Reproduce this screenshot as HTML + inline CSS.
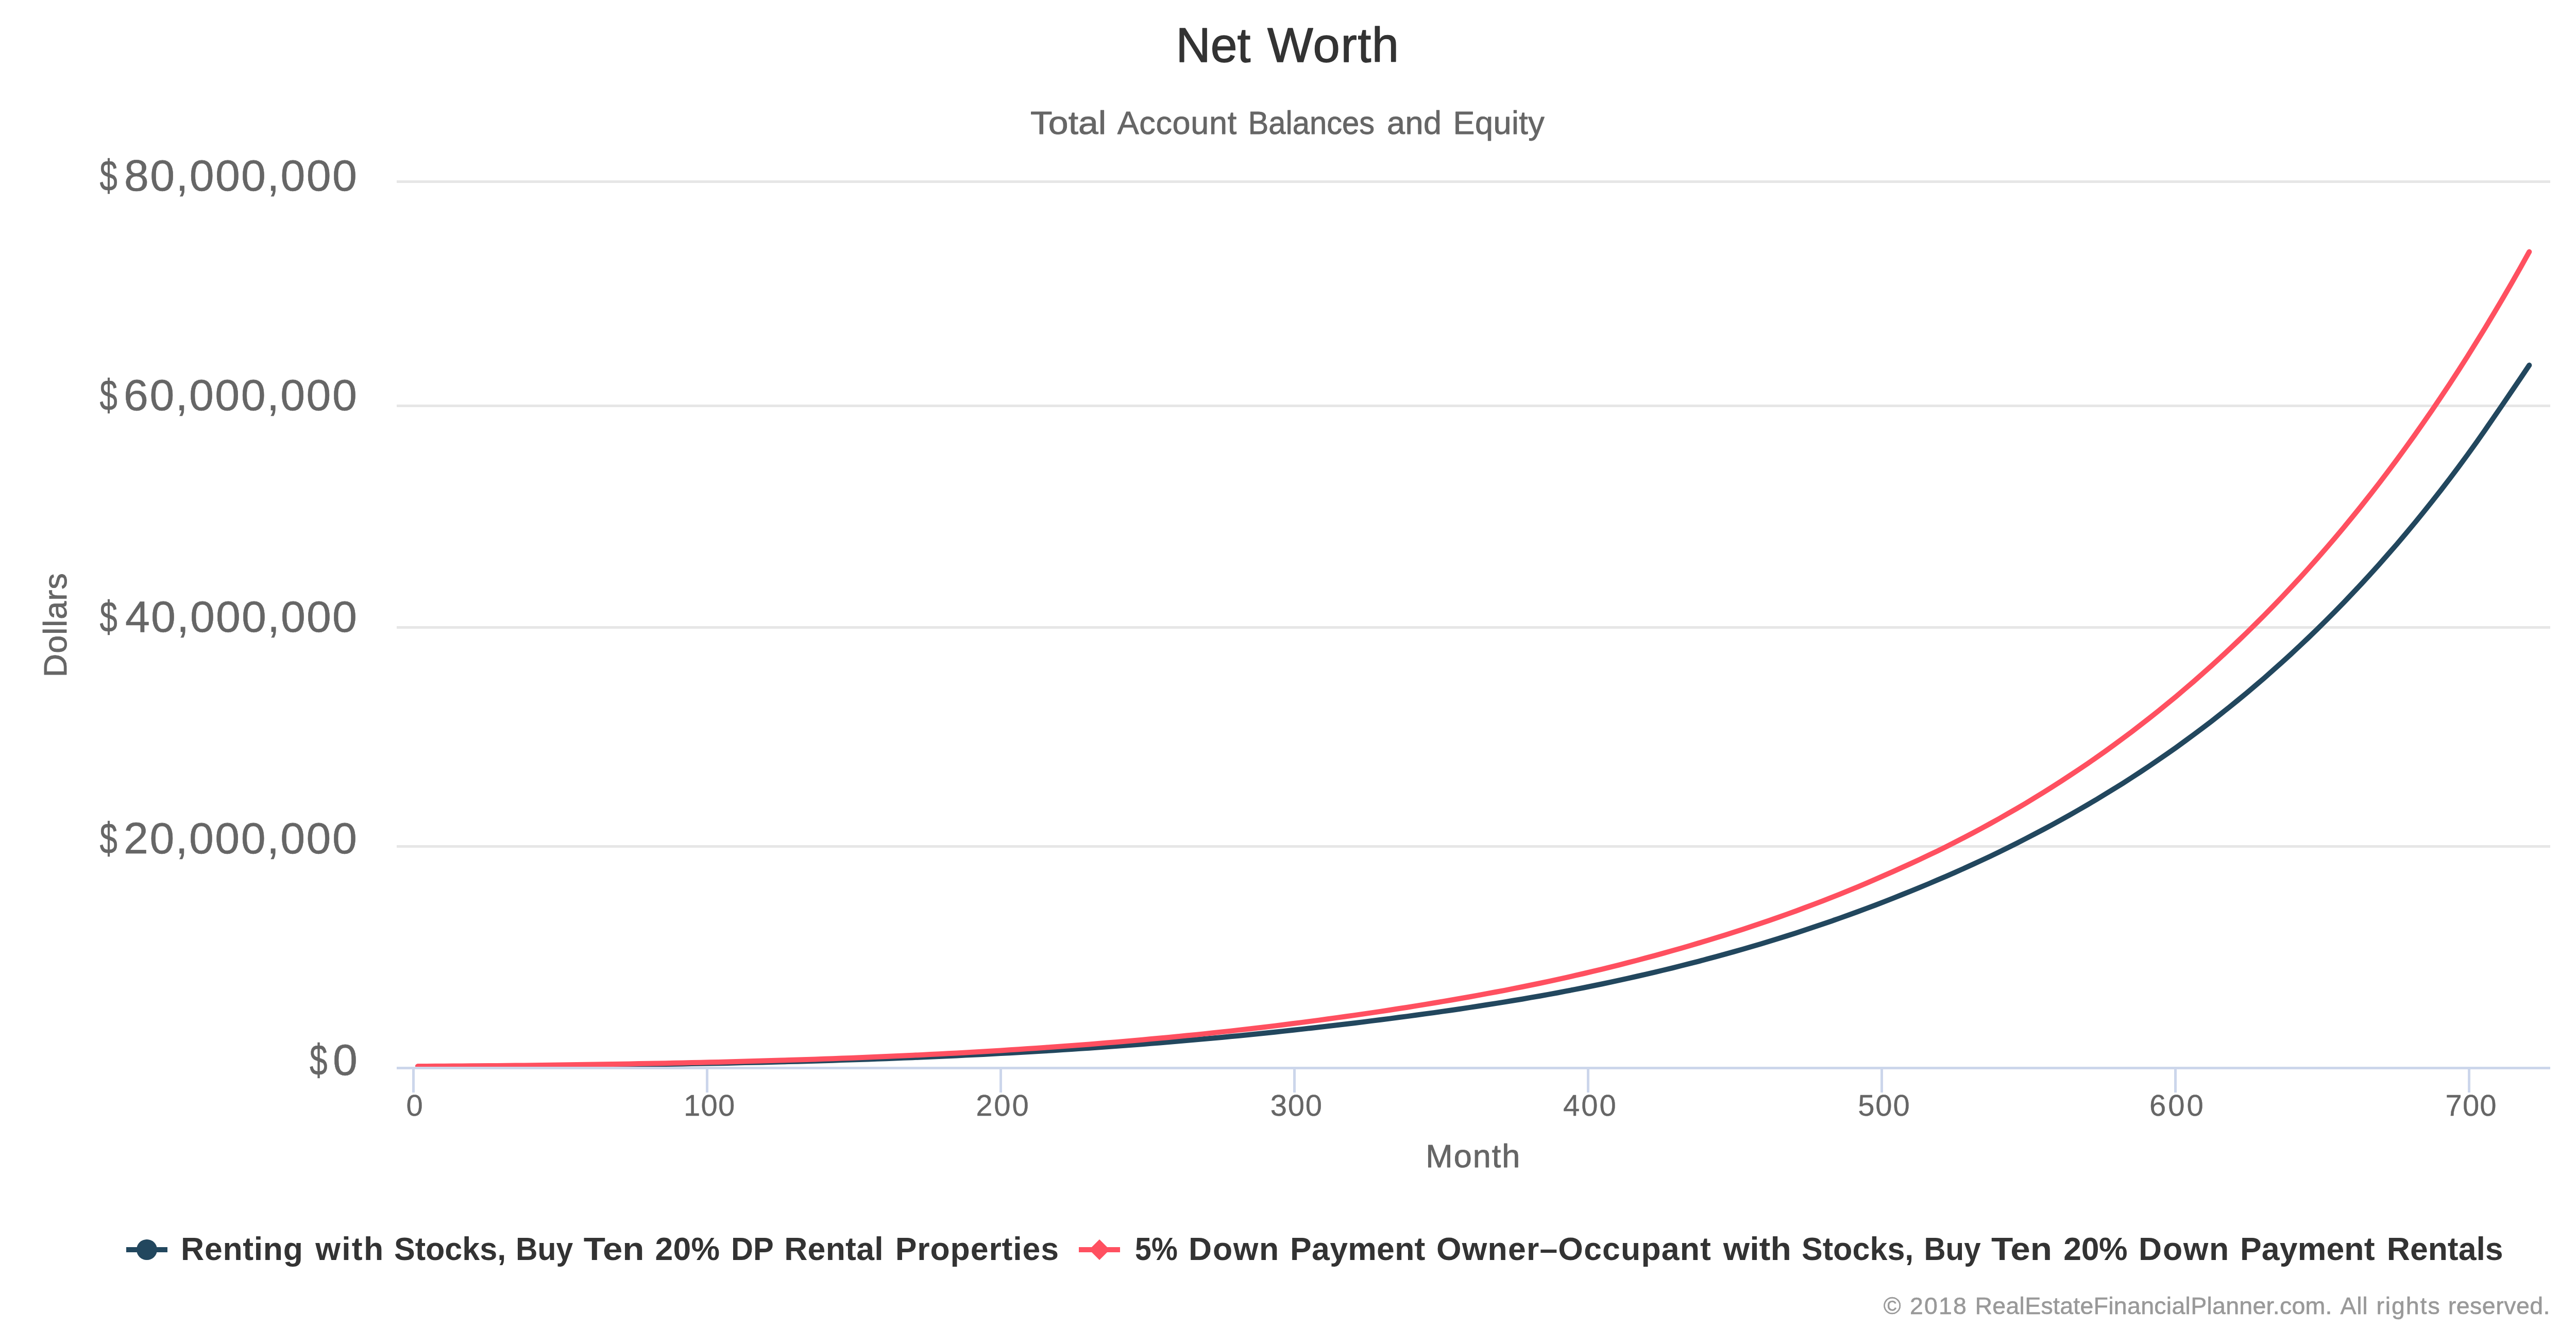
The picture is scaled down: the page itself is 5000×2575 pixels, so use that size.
<!DOCTYPE html>
<html><head><meta charset="utf-8"><title>Net Worth</title>
<style>html,body{margin:0;padding:0;background:#fff;}body{width:5000px;height:2575px;overflow:hidden;}svg{display:block;position:absolute;left:0;top:0;}text{font-family:"Liberation Sans", sans-serif;white-space:pre;}</style></head><body>
<svg width="5000" height="2575" viewBox="0 0 5000 2575">
<rect x="0" y="0" width="5000" height="2575" fill="#ffffff"/>
<rect x="770" y="350" width="4180" height="5" fill="#e6e6e6"/>
<rect x="770" y="785" width="4180" height="5" fill="#e6e6e6"/>
<rect x="770" y="1215" width="4180" height="5" fill="#e6e6e6"/>
<rect x="770" y="1640" width="4180" height="5" fill="#e6e6e6"/>
<rect x="770" y="2070" width="4180" height="5" fill="#e6e6e6"/>
<rect x="770" y="2070" width="4180" height="5" fill="#ccd6eb"/>
<rect x="800" y="2070" width="5" height="50" fill="#ccd6eb"/>
<rect x="1370" y="2070" width="5" height="50" fill="#ccd6eb"/>
<rect x="1940" y="2070" width="5" height="50" fill="#ccd6eb"/>
<rect x="2510" y="2070" width="5" height="50" fill="#ccd6eb"/>
<rect x="3080" y="2070" width="5" height="50" fill="#ccd6eb"/>
<rect x="3650" y="2070" width="5" height="50" fill="#ccd6eb"/>
<rect x="4220" y="2070" width="5" height="50" fill="#ccd6eb"/>
<rect x="4790" y="2070" width="5" height="50" fill="#ccd6eb"/>
<defs><filter id="gaa" filterUnits="userSpaceOnUse" x="3500" y="2480" width="1500" height="95" color-interpolation-filters="sRGB"><feOffset dx="0" dy="0"/></filter></defs>
<text transform="translate(2282.50 120) scale(0.9901 1)" font-size="94" fill="#333333" letter-spacing="0.000" stroke="#333333" stroke-width="1.4" stroke-linejoin="round">Net</text>
<text transform="translate(2460.10 120)" font-size="94" fill="#333333" letter-spacing="1.500" stroke="#333333" stroke-width="1.4" stroke-linejoin="round">Worth</text>
<text transform="translate(2000.00 260) scale(1.1070 1)" font-size="63" fill="#666666" letter-spacing="0.000" stroke="#666666" stroke-width="0.9" stroke-linejoin="round">Total</text>
<text transform="translate(2168.70 260)" font-size="63" fill="#666666" letter-spacing="0.633" stroke="#666666" stroke-width="0.9" stroke-linejoin="round">Account</text>
<text transform="translate(2422.50 260) scale(0.9481 1)" font-size="63" fill="#666666" letter-spacing="0.000" stroke="#666666" stroke-width="0.9" stroke-linejoin="round">Balances</text>
<text transform="translate(2692.10 260)" font-size="63" fill="#666666" letter-spacing="0.400" stroke="#666666" stroke-width="0.9" stroke-linejoin="round">and</text>
<text transform="translate(2820.50 260)" font-size="63" fill="#666666" letter-spacing="0.440" stroke="#666666" stroke-width="0.9" stroke-linejoin="round">Equity</text>
<text transform="translate(193.60 369.6) scale(0.7195 1)" font-size="86" fill="#666666" letter-spacing="0.000" stroke="#666666" stroke-width="0.6" stroke-linejoin="round">$</text>
<text transform="translate(241.10 369.6)" font-size="86" fill="#666666" letter-spacing="2.356" stroke="#666666" stroke-width="0.6" stroke-linejoin="round">80,000,000</text>
<text transform="translate(193.60 795.5) scale(0.7195 1)" font-size="86" fill="#666666" letter-spacing="0.000" stroke="#666666" stroke-width="0.6" stroke-linejoin="round">$</text>
<text transform="translate(240.10 795.5)" font-size="86" fill="#666666" letter-spacing="2.467" stroke="#666666" stroke-width="0.6" stroke-linejoin="round">60,000,000</text>
<text transform="translate(193.60 1225.5) scale(0.7195 1)" font-size="86" fill="#666666" letter-spacing="0.000" stroke="#666666" stroke-width="0.6" stroke-linejoin="round">$</text>
<text transform="translate(243.10 1225.5)" font-size="86" fill="#666666" letter-spacing="2.133" stroke="#666666" stroke-width="0.6" stroke-linejoin="round">40,000,000</text>
<text transform="translate(193.60 1655.5) scale(0.7195 1)" font-size="86" fill="#666666" letter-spacing="0.000" stroke="#666666" stroke-width="0.6" stroke-linejoin="round">$</text>
<text transform="translate(240.10 1655.5)" font-size="86" fill="#666666" letter-spacing="2.467" stroke="#666666" stroke-width="0.6" stroke-linejoin="round">20,000,000</text>
<text transform="translate(601.00 2085.8) scale(0.7225 1)" font-size="86" fill="#666666" letter-spacing="0.000" stroke="#666666" stroke-width="0.6" stroke-linejoin="round">$</text>
<text transform="translate(646.00 2085.8)" font-size="86" fill="#666666" letter-spacing="0.000" stroke="#666666" stroke-width="0.6" stroke-linejoin="round">0</text>
<text transform="translate(788.60 2165)" font-size="58" fill="#666666" letter-spacing="0.000" stroke="#666666" stroke-width="0.4" stroke-linejoin="round">0</text>
<text transform="translate(1327.00 2165)" font-size="58" fill="#666666" letter-spacing="1.200" stroke="#666666" stroke-width="0.4" stroke-linejoin="round">100</text>
<text transform="translate(1894.20 2165)" font-size="58" fill="#666666" letter-spacing="2.900" stroke="#666666" stroke-width="0.4" stroke-linejoin="round">200</text>
<text transform="translate(2465.80 2165)" font-size="58" fill="#666666" letter-spacing="1.700" stroke="#666666" stroke-width="0.4" stroke-linejoin="round">300</text>
<text transform="translate(3034.10 2165)" font-size="58" fill="#666666" letter-spacing="3.000" stroke="#666666" stroke-width="0.4" stroke-linejoin="round">400</text>
<text transform="translate(3606.20 2165)" font-size="58" fill="#666666" letter-spacing="1.900" stroke="#666666" stroke-width="0.4" stroke-linejoin="round">500</text>
<text transform="translate(4172.00 2165)" font-size="58" fill="#666666" letter-spacing="4.000" stroke="#666666" stroke-width="0.4" stroke-linejoin="round">600</text>
<text transform="translate(4746.60 2165)" font-size="58" fill="#666666" letter-spacing="1.100" stroke="#666666" stroke-width="0.4" stroke-linejoin="round">700</text>
<text transform="translate(2767.30 2264.8)" font-size="63" fill="#666666" letter-spacing="2.000" stroke="#666666" stroke-width="0.9" stroke-linejoin="round">Month</text>
<text transform="translate(351.10 2445)" font-size="62.5" fill="#333333" letter-spacing="0.700" font-weight="bold">Renting</text>
<text transform="translate(612.30 2445)" font-size="62.5" fill="#333333" letter-spacing="2.267" font-weight="bold">with</text>
<text transform="translate(764.90 2445) scale(0.9778 1)" font-size="62.5" fill="#333333" letter-spacing="0.000" font-weight="bold">Stocks,</text>
<text transform="translate(1001.10 2445) scale(0.9419 1)" font-size="62.5" fill="#333333" letter-spacing="0.000" font-weight="bold">Buy</text>
<text transform="translate(1132.80 2445) scale(1.1063 1)" font-size="62.5" fill="#333333" letter-spacing="0.000" font-weight="bold">Ten</text>
<text transform="translate(1271.60 2445)" font-size="62.5" fill="#333333" letter-spacing="0.200" font-weight="bold">20%</text>
<text transform="translate(1418.90 2445) scale(0.9534 1)" font-size="62.5" fill="#333333" letter-spacing="0.000" font-weight="bold">DP</text>
<text transform="translate(1522.20 2445)" font-size="62.5" fill="#333333" letter-spacing="0.280" font-weight="bold">Rental</text>
<text transform="translate(1737.70 2445)" font-size="62.5" fill="#333333" letter-spacing="0.911" font-weight="bold">Properties</text>
<text transform="translate(2203.10 2445) scale(0.9152 1)" font-size="62.5" fill="#333333" letter-spacing="0.000" font-weight="bold">5%</text>
<text transform="translate(2307.10 2445)" font-size="62.5" fill="#333333" letter-spacing="1.667" font-weight="bold">Down</text>
<text transform="translate(2504.10 2445)" font-size="62.5" fill="#333333" letter-spacing="0.300" font-weight="bold">Payment</text>
<text transform="translate(2788.00 2445)" font-size="62.5" fill="#333333" letter-spacing="1.185" font-weight="bold">Owner–Occupant</text>
<text transform="translate(3344.80 2445) scale(1.0571 1)" font-size="62.5" fill="#333333" letter-spacing="0.000" font-weight="bold">with</text>
<text transform="translate(3497.00 2445) scale(0.9778 1)" font-size="62.5" fill="#333333" letter-spacing="0.000" font-weight="bold">Stocks,</text>
<text transform="translate(3734.40 2445) scale(0.9334 1)" font-size="62.5" fill="#333333" letter-spacing="0.000" font-weight="bold">Buy</text>
<text transform="translate(3865.10 2445) scale(1.1082 1)" font-size="62.5" fill="#333333" letter-spacing="0.000" font-weight="bold">Ten</text>
<text transform="translate(4005.30 2445)" font-size="62.5" fill="#333333" letter-spacing="-0.400" font-weight="bold">20%</text>
<text transform="translate(4151.10 2445)" font-size="62.5" fill="#333333" letter-spacing="1.667" font-weight="bold">Down</text>
<text transform="translate(4348.00 2445)" font-size="62.5" fill="#333333" letter-spacing="0.167" font-weight="bold">Payment</text>
<text transform="translate(4632.80 2445)" font-size="62.5" fill="#333333" letter-spacing="0.000" font-weight="bold">Rentals</text>
<g filter="url(#gaa)">
<text transform="translate(3655.70 2550) scale(0.9900 1)" font-size="46.5" fill="#999999" letter-spacing="0.000" stroke="#999999" stroke-width="0.6" stroke-linejoin="round">©</text>
<text transform="translate(3707.00 2550)" font-size="46.5" fill="#999999" letter-spacing="2.133" stroke="#999999" stroke-width="0.6" stroke-linejoin="round">2018</text>
<text transform="translate(3833.40 2550)" font-size="46.5" fill="#999999" letter-spacing="0.273" stroke="#999999" stroke-width="0.6" stroke-linejoin="round">RealEstateFinancialPlanner.com.</text>
<text transform="translate(4542.40 2550)" font-size="46.5" fill="#999999" letter-spacing="0.800" stroke="#999999" stroke-width="0.6" stroke-linejoin="round">All</text>
<text transform="translate(4612.40 2550)" font-size="46.5" fill="#999999" letter-spacing="1.920" stroke="#999999" stroke-width="0.6" stroke-linejoin="round">rights</text>
<text transform="translate(4751.70 2550)" font-size="46.5" fill="#999999" letter-spacing="0.500" stroke="#999999" stroke-width="0.6" stroke-linejoin="round">reserved.</text>
</g>
<text transform="translate(129.2 1314.20) rotate(-90)" x="0" y="0" font-size="63" fill="#666666" letter-spacing="1.000" stroke="#666666" stroke-width="0.9" stroke-linejoin="round">Dollars</text>
<defs><clipPath id="plot"><rect x="770" y="340" width="4180" height="1730"/></clipPath></defs>
<g clip-path="url(#plot)" fill="none" stroke-width="10" stroke-linecap="round" stroke-linejoin="round">
<path d="M811.0 2069.4 L828.1 2069.3 L845.3 2069.3 L862.4 2069.2 L879.6 2069.1 L896.7 2069.0 L913.9 2068.9 L931.0 2068.8 L948.2 2068.7 L965.3 2068.6 L982.5 2068.4 L999.6 2068.3 L1016.8 2068.2 L1033.9 2068.0 L1051.1 2067.9 L1068.2 2067.7 L1085.4 2067.5 L1102.5 2067.3 L1119.7 2067.2 L1136.8 2067.0 L1154.0 2066.8 L1171.1 2066.6 L1188.2 2066.4 L1205.4 2066.2 L1222.5 2065.9 L1239.7 2065.7 L1256.8 2065.5 L1274.0 2065.2 L1291.1 2065.0 L1308.3 2064.7 L1325.4 2064.4 L1342.6 2064.1 L1359.7 2063.8 L1376.9 2063.5 L1394.0 2063.2 L1411.2 2062.9 L1428.3 2062.5 L1445.5 2062.1 L1462.6 2061.8 L1479.8 2061.4 L1496.9 2061.0 L1514.1 2060.5 L1531.2 2060.1 L1548.4 2059.7 L1565.5 2059.2 L1582.6 2058.7 L1599.8 2058.2 L1616.9 2057.7 L1634.1 2057.1 L1651.2 2056.6 L1668.4 2056.0 L1685.5 2055.4 L1702.7 2054.8 L1719.8 2054.2 L1737.0 2053.5 L1754.1 2052.8 L1771.3 2052.2 L1788.4 2051.4 L1805.6 2050.7 L1822.7 2050.0 L1839.9 2049.2 L1857.0 2048.4 L1874.2 2047.6 L1891.3 2046.7 L1908.5 2045.9 L1925.6 2045.0 L1942.7 2044.1 L1959.9 2043.2 L1977.0 2042.2 L1994.2 2041.2 L2011.3 2040.2 L2028.5 2039.2 L2045.6 2038.2 L2062.8 2037.1 L2079.9 2036.0 L2097.1 2034.8 L2114.2 2033.7 L2131.4 2032.5 L2148.5 2031.3 L2165.7 2030.1 L2182.8 2028.8 L2200.0 2027.5 L2217.1 2026.2 L2234.3 2024.8 L2251.4 2023.5 L2268.6 2022.1 L2285.7 2020.6 L2302.8 2019.1 L2320.0 2017.6 L2337.1 2016.1 L2354.3 2014.6 L2371.4 2013.0 L2388.6 2011.3 L2405.7 2009.7 L2422.9 2008.0 L2440.0 2006.3 L2457.2 2004.5 L2474.3 2002.7 L2491.5 2000.9 L2508.6 1999.0 L2525.8 1997.1 L2542.9 1995.2 L2560.1 1993.3 L2577.2 1991.3 L2594.4 1989.3 L2611.5 1987.2 L2628.7 1985.2 L2645.8 1983.1 L2663.0 1980.9 L2680.1 1978.8 L2697.2 1976.6 L2714.4 1974.3 L2731.5 1972.1 L2748.7 1969.8 L2765.8 1967.4 L2783.0 1965.1 L2800.1 1962.6 L2817.3 1960.2 L2834.4 1957.7 L2851.6 1955.1 L2868.7 1952.5 L2885.9 1949.8 L2903.0 1947.1 L2920.2 1944.4 L2937.3 1941.5 L2954.5 1938.7 L2971.6 1935.7 L2988.8 1932.7 L3005.9 1929.6 L3023.1 1926.5 L3040.2 1923.2 L3057.3 1919.9 L3074.5 1916.5 L3091.6 1913.0 L3108.8 1909.5 L3125.9 1905.8 L3143.1 1902.1 L3160.2 1898.4 L3177.4 1894.5 L3194.5 1890.6 L3211.7 1886.6 L3228.8 1882.5 L3246.0 1878.3 L3263.1 1874.0 L3280.3 1869.7 L3297.4 1865.3 L3314.6 1860.7 L3331.7 1856.1 L3348.9 1851.4 L3366.0 1846.6 L3383.2 1841.8 L3400.3 1836.8 L3417.5 1831.7 L3434.6 1826.5 L3451.7 1821.2 L3468.9 1815.9 L3486.0 1810.4 L3503.2 1804.8 L3520.3 1799.1 L3537.5 1793.3 L3554.6 1787.4 L3571.8 1781.4 L3588.9 1775.3 L3606.1 1769.0 L3623.2 1762.6 L3640.4 1756.2 L3657.5 1749.6 L3674.7 1742.9 L3691.8 1736.0 L3709.0 1729.1 L3726.1 1722.1 L3743.3 1715.0 L3760.4 1707.7 L3777.6 1700.4 L3794.7 1692.9 L3811.8 1685.2 L3829.0 1677.4 L3846.1 1669.5 L3863.3 1661.4 L3880.4 1653.2 L3897.6 1644.8 L3914.7 1636.2 L3931.9 1627.4 L3949.0 1618.5 L3966.2 1609.5 L3983.3 1600.3 L4000.5 1590.9 L4017.6 1581.3 L4034.8 1571.5 L4051.9 1561.6 L4069.1 1551.5 L4086.2 1541.1 L4103.4 1530.6 L4120.5 1519.9 L4137.7 1508.9 L4154.8 1497.7 L4171.9 1486.4 L4189.1 1474.7 L4206.2 1462.9 L4223.4 1450.8 L4240.5 1438.4 L4257.7 1425.8 L4274.8 1413.0 L4292.0 1399.9 L4309.1 1386.5 L4326.3 1372.9 L4343.4 1359.0 L4360.6 1344.8 L4377.7 1330.4 L4394.9 1315.7 L4412.0 1300.6 L4429.2 1285.3 L4446.3 1269.7 L4463.5 1253.7 L4480.6 1237.5 L4497.8 1220.9 L4514.9 1204.0 L4532.1 1186.7 L4549.2 1169.2 L4566.3 1151.2 L4583.5 1133.0 L4600.6 1114.3 L4617.8 1095.3 L4634.9 1075.9 L4652.1 1056.2 L4669.2 1036.0 L4686.4 1015.4 L4703.5 994.4 L4720.7 972.9 L4737.8 951.1 L4755.0 928.7 L4772.1 905.9 L4789.3 882.6 L4806.4 858.8 L4823.6 834.3 L4840.7 809.5 L4857.9 784.5 L4875.0 759.4 L4892.2 734.1 L4909.3 708.6" stroke="#22475e"/>
<path d="M811.0 2069.0 L828.1 2068.9 L845.3 2068.8 L862.4 2068.7 L879.6 2068.6 L896.7 2068.5 L913.9 2068.3 L931.0 2068.2 L948.2 2068.0 L965.3 2067.9 L982.5 2067.7 L999.6 2067.5 L1016.8 2067.4 L1033.9 2067.2 L1051.1 2067.0 L1068.2 2066.7 L1085.4 2066.5 L1102.5 2066.3 L1119.7 2066.1 L1136.8 2065.8 L1154.0 2065.6 L1171.1 2065.3 L1188.2 2065.0 L1205.4 2064.7 L1222.5 2064.4 L1239.7 2064.1 L1256.8 2063.8 L1274.0 2063.5 L1291.1 2063.2 L1308.3 2062.8 L1325.4 2062.4 L1342.6 2062.1 L1359.7 2061.7 L1376.9 2061.3 L1394.0 2060.9 L1411.2 2060.5 L1428.3 2060.0 L1445.5 2059.6 L1462.6 2059.1 L1479.8 2058.6 L1496.9 2058.1 L1514.1 2057.6 L1531.2 2057.1 L1548.4 2056.5 L1565.5 2056.0 L1582.6 2055.4 L1599.8 2054.8 L1616.9 2054.2 L1634.1 2053.5 L1651.2 2052.9 L1668.4 2052.2 L1685.5 2051.5 L1702.7 2050.8 L1719.8 2050.0 L1737.0 2049.3 L1754.1 2048.5 L1771.3 2047.7 L1788.4 2046.9 L1805.6 2046.0 L1822.7 2045.2 L1839.9 2044.3 L1857.0 2043.4 L1874.2 2042.4 L1891.3 2041.5 L1908.5 2040.5 L1925.6 2039.4 L1942.7 2038.4 L1959.9 2037.3 L1977.0 2036.2 L1994.2 2035.1 L2011.3 2033.9 L2028.5 2032.7 L2045.6 2031.5 L2062.8 2030.3 L2079.9 2029.0 L2097.1 2027.7 L2114.2 2026.4 L2131.4 2025.0 L2148.5 2023.6 L2165.7 2022.2 L2182.8 2020.7 L2200.0 2019.2 L2217.1 2017.7 L2234.3 2016.1 L2251.4 2014.6 L2268.6 2012.9 L2285.7 2011.3 L2302.8 2009.6 L2320.0 2007.9 L2337.1 2006.1 L2354.3 2004.3 L2371.4 2002.4 L2388.6 2000.6 L2405.7 1998.6 L2422.9 1996.7 L2440.0 1994.7 L2457.2 1992.7 L2474.3 1990.6 L2491.5 1988.5 L2508.6 1986.3 L2525.8 1984.1 L2542.9 1981.9 L2560.1 1979.6 L2577.2 1977.3 L2594.4 1974.9 L2611.5 1972.5 L2628.7 1970.1 L2645.8 1967.6 L2663.0 1965.1 L2680.1 1962.6 L2697.2 1960.0 L2714.4 1957.3 L2731.5 1954.7 L2748.7 1951.9 L2765.8 1949.1 L2783.0 1946.3 L2800.1 1943.4 L2817.3 1940.5 L2834.4 1937.5 L2851.6 1934.5 L2868.7 1931.4 L2885.9 1928.2 L2903.0 1925.0 L2920.2 1921.8 L2937.3 1918.4 L2954.5 1915.0 L2971.6 1911.5 L2988.8 1908.0 L3005.9 1904.3 L3023.1 1900.6 L3040.2 1896.8 L3057.3 1892.9 L3074.5 1889.0 L3091.6 1884.9 L3108.8 1880.8 L3125.9 1876.6 L3143.1 1872.3 L3160.2 1867.9 L3177.4 1863.5 L3194.5 1858.9 L3211.7 1854.3 L3228.8 1849.6 L3246.0 1844.8 L3263.1 1840.0 L3280.3 1835.0 L3297.4 1829.9 L3314.6 1824.8 L3331.7 1819.5 L3348.9 1814.2 L3366.0 1808.8 L3383.2 1803.2 L3400.3 1797.6 L3417.5 1791.8 L3434.6 1785.9 L3451.7 1780.0 L3468.9 1773.9 L3486.0 1767.7 L3503.2 1761.3 L3520.3 1754.9 L3537.5 1748.3 L3554.6 1741.6 L3571.8 1734.8 L3588.9 1727.9 L3606.1 1720.8 L3623.2 1713.6 L3640.4 1706.2 L3657.5 1698.7 L3674.7 1691.1 L3691.8 1683.4 L3709.0 1675.6 L3726.1 1667.7 L3743.3 1659.6 L3760.4 1651.4 L3777.6 1643.0 L3794.7 1634.3 L3811.8 1625.5 L3829.0 1616.5 L3846.1 1607.4 L3863.3 1598.0 L3880.4 1588.5 L3897.6 1578.7 L3914.7 1568.8 L3931.9 1558.7 L3949.0 1548.3 L3966.2 1537.8 L3983.3 1527.0 L4000.5 1516.0 L4017.6 1504.8 L4034.8 1493.4 L4051.9 1481.8 L4069.1 1469.9 L4086.2 1457.8 L4103.4 1445.4 L4120.5 1432.8 L4137.7 1419.9 L4154.8 1406.8 L4171.9 1393.5 L4189.1 1379.8 L4206.2 1365.9 L4223.4 1351.8 L4240.5 1337.3 L4257.7 1322.6 L4274.8 1307.6 L4292.0 1292.2 L4309.1 1276.6 L4326.3 1260.7 L4343.4 1244.5 L4360.6 1228.0 L4377.7 1211.1 L4394.9 1194.0 L4412.0 1176.4 L4429.2 1158.6 L4446.3 1140.4 L4463.5 1121.9 L4480.6 1103.0 L4497.8 1083.7 L4514.9 1064.0 L4532.1 1044.0 L4549.2 1023.6 L4566.3 1002.8 L4583.5 981.5 L4600.6 959.9 L4617.8 937.8 L4634.9 915.3 L4652.1 892.3 L4669.2 868.9 L4686.4 845.0 L4703.5 820.7 L4720.7 795.9 L4737.8 770.5 L4755.0 744.7 L4772.1 718.4 L4789.3 691.6 L4806.4 664.2 L4823.6 636.3 L4840.7 607.9 L4857.9 578.9 L4875.0 549.4 L4892.2 519.2 L4909.3 488.5" stroke="#ff5060"/>
</g>
<rect x="245" y="2420" width="80" height="10" fill="#22475e"/><circle cx="285" cy="2425" r="20" fill="#22475e"/>
<rect x="2094" y="2420" width="80" height="10" fill="#ff5060"/><path d="M2134 2405 L2154 2425 L2134 2445 L2114 2425 Z" fill="#ff5060"/>
</svg></body></html>
